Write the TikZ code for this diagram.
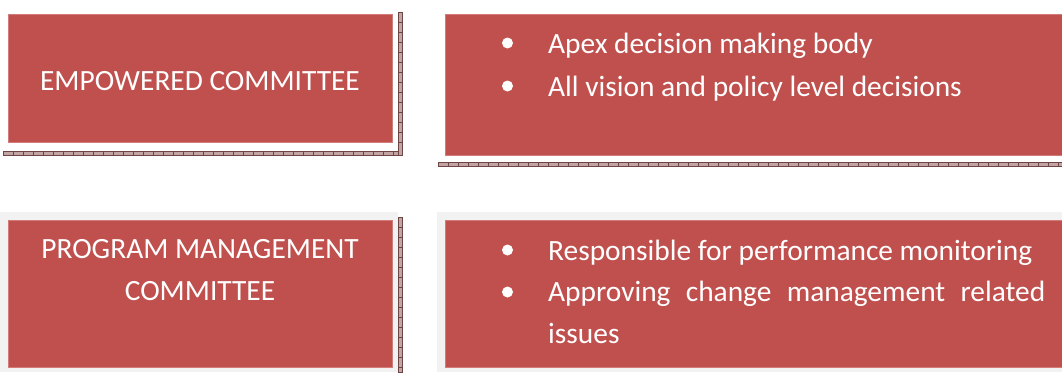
\documentclass[tikz,border=0pt]{standalone}
\usepackage{fontspec}
\setmainfont{Carlito}
\definecolor{boxred}{HTML}{C0504D}
\definecolor{boxedge}{HTML}{D27C7A}
\definecolor{panelgray}{HTML}{F2F2F2}
\definecolor{bandfill}{HTML}{C2A4A4}
\definecolor{banddark}{HTML}{6E4545}
\tikzset{
  redbox/.style={draw=boxedge, line width=0.8pt, fill=boxred, inner sep=0pt, anchor=north west},
  graypanel/.style={fill=panelgray, draw=none, inner sep=0pt, anchor=north west},
  boxtext/.style={text=white, font=\fontsize{29.4}{34}\selectfont, inner sep=0pt},
  bulletdot/.style={circle, fill=white, minimum size=11pt, inner sep=0pt},
  bandstyle/.style={fill=bandfill, draw=banddark, line width=0.6pt},
  tickstyle/.style={draw=banddark, line width=0.7pt}
}
\begin{document}
\begin{tikzpicture}[x=1pt,y=-1pt]
\useasboundingbox (0,0) rectangle (1062,372);
\fill[white] (0,0) rectangle (1062,372);

% gray panels (bottom row)
\node[graypanel, minimum width=398pt, minimum height=160pt] (gl) at (0,212) {};
\node[graypanel, minimum width=625pt, minimum height=160pt] (gr) at (437,212) {};

% shadow bands top-left
\path[bandstyle] (3,151) rectangle (402,155);
\path[bandstyle] (398,12) rectangle (402,155);
\foreach \x in {13,23,...,393} \draw[tickstyle] (\x,151) -- (\x,155);
\foreach \y in {22,32,...,142} \draw[tickstyle] (398,\y) -- (402,\y);
% shadow band top-right
\path[bandstyle] (438,162.5) rectangle (1062,166.5);
\foreach \x in {448,458,...,1058} \draw[tickstyle] (\x,162.5) -- (\x,166.5);
% shadow band bottom-left
\path[bandstyle] (398,217) rectangle (402,372);
\foreach \y in {227,237,...,367} \draw[tickstyle] (398,\y) -- (402,\y);

% red boxes
\node[redbox, minimum width=384pt, minimum height=128pt] (ec) at (8,14) {};
\node[redbox, minimum width=620pt, minimum height=141pt] (ed) at (445,14) {};
\node[redbox, minimum width=384pt, minimum height=147pt] (pm) at (8,220) {};
\node[redbox, minimum width=620pt, minimum height=147pt] (pd) at (445,220) {};

% left texts
\node[boxtext, anchor=base] (t1) at (200,90) {EMPOWERED COMMITTEE};
\node[boxtext, anchor=base] (t2) at (200,258) {PROGRAM MANAGEMENT};
\node[boxtext, anchor=base] (t3) at (200,300) {COMMITTEE};

% bullets
\node[bulletdot] (b1) at (507.5,43) {};
\node[bulletdot] (b2) at (507.5,86) {};
\node[bulletdot] (b3) at (507.5,250) {};
\node[bulletdot] (b4) at (507.5,292) {};

% right texts
\node[boxtext, anchor=base west] (r1) at (548,53.3) {Apex decision making body};
\node[boxtext, anchor=base west] (r2) at (548,96.3) {All vision and policy level decisions};
\node[boxtext, anchor=base west] (r3) at (548,260) {Responsible for performance monitoring};
\node[boxtext, anchor=base west] (r4) at (548,301.7) {\makebox[497pt][s]{Approving change management related}};
\node[boxtext, anchor=base west] (r5) at (548,343) {issues};
\end{tikzpicture}
\end{document}
